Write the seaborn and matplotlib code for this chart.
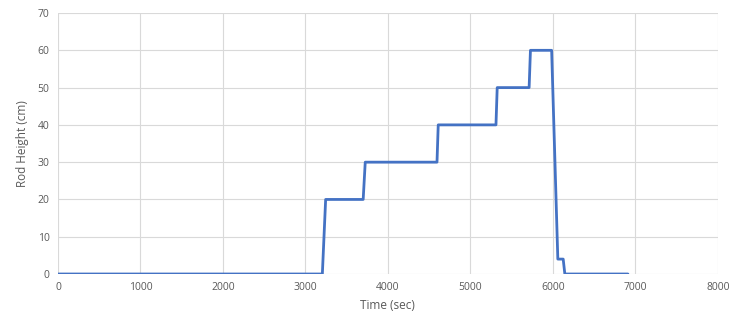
import matplotlib
matplotlib.use("Agg")
import matplotlib.pyplot as plt
import seaborn as sns
import pandas as pd

time_sec = [0, 3205, 3245, 3700, 3725, 4595, 4610, 5310, 5325, 5712, 5728, 5985, 6060, 6125, 6145, 6910]
rod_height_cm = [0, 0, 20, 20, 30, 30, 40, 40, 50, 50, 60, 60, 4, 4, 0, 0]

x_ticks = [0, 1000, 2000, 3000, 4000, 5000, 6000, 7000, 8000]
y_ticks = [0, 10, 20, 30, 40, 50, 60, 70]

sns.set_theme(style="white")
plt.rcParams['font.family'] = ['Open Sans', 'DejaVu Sans']

df = pd.DataFrame({"Time (sec)": time_sec, "Rod Height (cm)": rod_height_cm})

fig = plt.figure(figsize=(7.37, 3.26), dpi=100)
ax = fig.add_axes([0.0787, 0.1595, 0.8953, 0.8005])
sns.lineplot(data=df, x="Time (sec)", y="Rod Height (cm)", sort=False, estimator=None,
             color="#4472C4", linewidth=2.0, ax=ax, zorder=3)

ax.set_xlim(0, 8000)
ax.set_ylim(0, 70)
ax.set_xticks(x_ticks)
ax.set_yticks(y_ticks)
ax.grid(True, color="#d9d9d9", linewidth=0.8)
for s in ax.spines.values():
    s.set_visible(False)
ax.tick_params(axis="both", length=0, labelsize=7.5, colors="#595959", pad=6)
ax.set_xlabel("Time (sec)", fontsize=8.5, color="#595959", labelpad=4)
ax.set_ylabel("Rod Height (cm)", fontsize=8.5, color="#595959", labelpad=6)

fig.savefig("out.png", dpi=100)
